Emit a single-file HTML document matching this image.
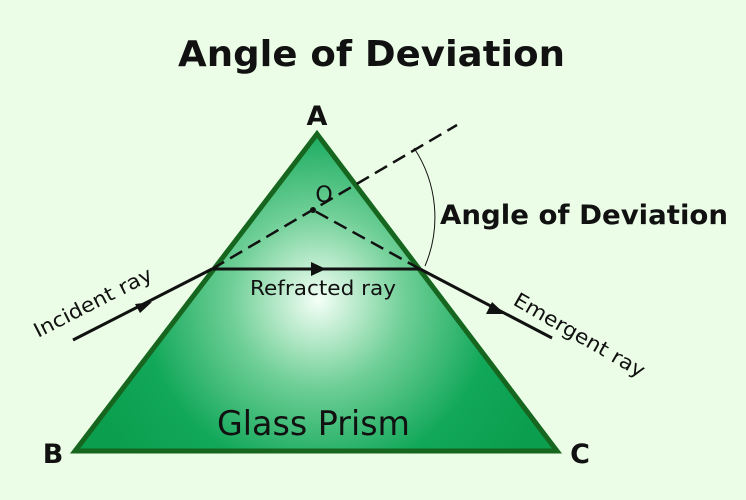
<!DOCTYPE html>
<html><head><style>
html,body{margin:0;padding:0;background:#ebfde6;}
svg{display:block;font-family:"DejaVu Sans","Liberation Sans",sans-serif;}
</style></head><body>
<svg width="746" height="500" viewBox="0 0 746 500">
<defs>
<radialGradient id="g" cx="318" cy="300" r="250" gradientUnits="userSpaceOnUse">
<stop offset="0" stop-color="#f4fff6"/>
<stop offset="0.35" stop-color="#6fcf96"/>
<stop offset="0.7" stop-color="#12a85a"/>
<stop offset="1" stop-color="#0a9e4e"/>
</radialGradient>
</defs>
<rect width="746" height="500" fill="#ebfde6"/>
<text x="178" y="66" font-size="36" font-weight="bold" fill="#111" textLength="387" lengthAdjust="spacingAndGlyphs">Angle of Deviation</text>
<polygon points="317,134 75,451 557,451" fill="url(#g)" stroke="#17661f" stroke-width="5" stroke-linejoin="miter"/>
<text x="317" y="125" text-anchor="middle" font-size="27" font-weight="bold" fill="#111">A</text>
<text x="53" y="463" text-anchor="middle" font-size="27" font-weight="bold" fill="#111">B</text>
<text x="580" y="463" text-anchor="middle" font-size="27" font-weight="bold" fill="#111">C</text>
<line x1="212" y1="269" x2="457" y2="125" stroke="#111" stroke-width="2.5" stroke-dasharray="14,7"/>
<line x1="420" y1="269" x2="313" y2="210" stroke="#111" stroke-width="2.5" stroke-dasharray="14,7"/>
<circle cx="313" cy="210" r="3" fill="#111"/>
<text x="324" y="202" text-anchor="middle" font-size="22" fill="#111">O</text>
<path d="M414,148 A125,125 0 0 1 425,266" fill="none" stroke="#111" stroke-width="1"/>
<line x1="73" y1="340" x2="212" y2="269" stroke="#111" stroke-width="3"/>
<line x1="212" y1="269" x2="420" y2="269" stroke="#111" stroke-width="3"/>
<line x1="420" y1="269" x2="552" y2="338" stroke="#111" stroke-width="3"/>
<polygon points="152,302 135,304 140,313" fill="#111"/>
<polygon points="326,269 311,262 311,276" fill="#111"/>
<polygon points="505,314 492,302 486,314" fill="#111"/>
<text x="440" y="224" font-size="27" font-weight="bold" fill="#111" textLength="288" lengthAdjust="spacingAndGlyphs">Angle of Deviation</text>
<text x="250" y="295" font-size="20" fill="#111" textLength="146" lengthAdjust="spacingAndGlyphs">Refracted ray</text>
<text x="0" y="0" font-size="20" fill="#111" textLength="130" lengthAdjust="spacingAndGlyphs" transform="translate(38,338) rotate(-27)">Incident ray</text>
<text x="0" y="0" font-size="20" fill="#111" textLength="148" lengthAdjust="spacingAndGlyphs" transform="translate(512,304) rotate(30)">Emergent ray</text>
<text x="217" y="435" font-size="34" fill="#111" textLength="193" lengthAdjust="spacingAndGlyphs">Glass Prism</text>
</svg>
</body></html>
